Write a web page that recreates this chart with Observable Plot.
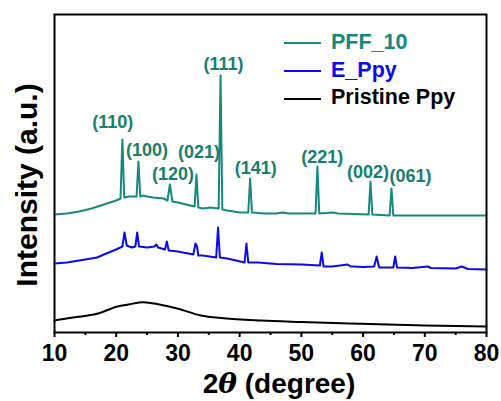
<!DOCTYPE html>
<html><head><meta charset="utf-8">
<script src="https://cdn.jsdelivr.net/npm/d3@7"></script>
<script src="https://cdn.jsdelivr.net/npm/@observablehq/plot@0.6"></script>
<style>
body{margin:0;background:#fff;}
#wrap{position:relative;width:501px;height:401px;font-family:"Liberation Sans",Arial,sans-serif;font-weight:bold;overflow:hidden;}
#wrap svg{position:absolute;left:0;top:0;}
.ov{position:absolute;white-space:nowrap;line-height:1;}
.leg{position:absolute;height:0;border-top:2px solid;}
</style></head><body><div id="wrap"></div>
<script>
// ---- data ----
const tealX = [10,12,14,16,18,20,20.7,21.0,21.3,22,23.3,23.6,23.9,24.4,25,26,27.7,28.3,28.7,29.1,30,32,32.7,33.0,33.3,34,35.3,36.6,36.9,37.2,38,40,41.4,41.7,42.0,44,46,47,48,52.3,52.6,52.9,55,56,60.9,61.2,61.5,64.3,64.6,64.9,70,80];
const tealY = [118,119,121,124,128,132,134,193,135,136,136,171,136,137,136,135,134,132,148,131,130,127,126,158,125,124,125,124,257,123,122,120,120,154,120,119,119,120,119,119,166,119,120,119,118,151,118,117,144,117,117,117];

const blueX = [10,12,14,16.9,18,20,21.0,21.35,21.7,22.5,23.1,23.4,23.7,25,26.2,26.5,26.8,27.9,28.2,28.5,30,32.5,32.85,33.1,33.3,34,36.2,36.5,36.8,38,40.8,41.1,41.4,43,46,50,53.0,53.3,53.6,55,57.5,58,58.5,60,61.8,62.2,62.6,64.9,65.2,65.5,68,70.5,71,75,76,77,80];
const blueY = [69,70,72,75,78,83,86,100,87,85,86,100,86,85,86,88,85,83,91,82,81,78,89,86,77,77,75,105,75,74,70,89,70,70,68.5,68,67,80,66,66,68,66,66,65.5,66,76,65,65,76,65,64.5,66,64.5,64,66,63.5,63];

const blackX = [10,13,16.9,20.2,22,24.4,27,29.9,33.7,37.4,43.4,50,59.6,70,80];
const blackY = [12,15,18.7,26,28,30.3,28,24,17,14.3,12,10.5,8.7,7,6];

const peakLabels = ["(110)","(100)","(120)","(021)","(111)","(141)","(221)","(002)","(061)"];
const labelX = [19.45,25.0,29.2,33.4,37.4,42.6,53.4,60.8,67.7];
const labelY = [210,182,158,180,268,164,175,160,156];

const xTicks = [10,20,30,40,50,60,70,80];
const xMinor = [15,25,35,45,55,65,75];

const seriesNames = ["PFF_10","E_Ppy","Pristine Ppy"];
const seriesColors = ["#14897f","#0a0af0","#000000"];
const labelColor = "#16806c";

// ---- build ----
const mk = (xs, ys) => xs.map((x,i)=>({x, y: ys[i]}));
const teal = mk(tealX, tealY), blue = mk(blueX, blueY), black = mk(blackX, blackY);
const labels = peakLabels.map((t,i)=>({t, x: labelX[i], y: labelY[i]}));

const font = '"Liberation Sans", Arial, sans-serif';
const chart = Plot.plot({
  width: 501, height: 401,
  marginLeft: 54, marginRight: 15, marginTop: 14, marginBottom: 69,
  style: {fontFamily: font, fontWeight: "bold", background: "transparent", color: "black"},
  x: {domain: [10, 80]},
  y: {domain: [0, 318], axis: null},
  marks: [
    Plot.axisX({ticks: xTicks, tickSize: 5, tickPadding: 7, fontSize: 23, strokeWidth: 2, label: null, tickFormat: d => String(d)}),
    Plot.axisX({ticks: xMinor, tickSize: 3, strokeWidth: 2, label: null, tickFormat: () => ""}),
    Plot.line(black, {x: "x", y: "y", stroke: seriesColors[2], strokeWidth: 2, curve: "monotone-x"}),
    Plot.line(blue, {x: "x", y: "y", stroke: seriesColors[1], strokeWidth: 2}),
    Plot.line(teal, {x: "x", y: "y", stroke: seriesColors[0], strokeWidth: 2}),
    Plot.text(labels, {x: "x", y: "y", text: "t", fill: labelColor, fontSize: 18, fontWeight: "bold"}),
    Plot.frame({stroke: "black", strokeWidth: 2})
  ]
});
const wrap = document.getElementById("wrap");
wrap.appendChild(chart);

function addText(txt, html, left, top, size, color, extra) {
  const d = document.createElement("div");
  d.className = "ov";
  if (html) d.innerHTML = txt; else d.textContent = txt;
  d.style.left = left + "px"; d.style.top = top + "px";
  d.style.fontSize = size + "px"; d.style.color = color;
  if (extra) Object.assign(d.style, extra);
  wrap.appendChild(d);
  return d;
}
// axis titles
addText('2<i style="font-family:\'DejaVu Serif\',serif;font-weight:bold;">θ</i> (degree)', true, 279, 370, 28, "#000", {transform: "translateX(-50%)"});
addText("Intensity (a.u.)", false, 27, 185, 30, "#000", {transform: "translate(-50%,-50%) rotate(-90deg)"});
// legend
const legY = [43, 71, 98.5];
seriesNames.forEach((n, i) => {
  const l = document.createElement("div");
  l.className = "leg";
  l.style.left = "284px"; l.style.width = "37px"; l.style.top = (legY[i] - 1) + "px";
  l.style.borderColor = seriesColors[i];
  wrap.appendChild(l);
  addText(n, false, 331, legY[i] + 7 - 0.8465 * 21.5, 21.5, seriesColors[i]);
});
</script></body></html>
